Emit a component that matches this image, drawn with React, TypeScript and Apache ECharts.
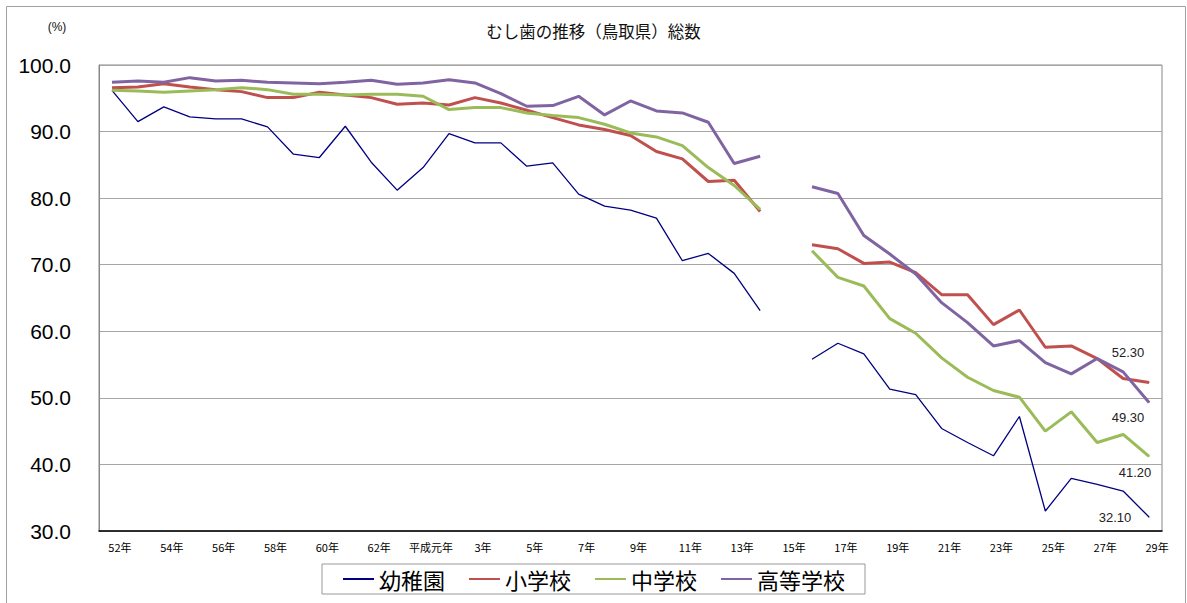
import React, { useEffect, useRef } from "react";
import * as echarts from "echarts";

const categories: string[] = [
  "52年", "53年", "54年", "55年", "56年", "57年", "58年", "59年", "60年", "61年", "62年", "63年",
  "平成元年", "2年", "3年", "4年", "5年", "6年", "7年", "8年", "9年", "10年", "11年", "12年",
  "13年", "14年", "15年", "16年", "17年", "18年", "19年", "20年", "21年", "22年", "23年", "24年",
  "25年", "26年", "27年", "28年", "29年",
];

const kindergarten: (number | null)[] = [
  96.2, 91.5, 93.7, 92.2, 91.9, 91.9, 90.7, 86.6, 86.1, 90.8, 85.4, 81.2,
  84.6, 89.7, 88.3, 88.3, 84.8, 85.3, 80.6, 78.8, 78.2, 77.0, 70.6, 71.7,
  68.7, 63.1, null, 55.8, 58.2, 56.6, 51.3, 50.5, 45.4, 43.3, 41.3, 47.2,
  33.0, 37.9, 37.0, 36.0, 32.1,
];

const elementary: (number | null)[] = [
  96.6, 96.7, 97.2, 96.7, 96.3, 96.0, 95.1, 95.1, 95.9, 95.5, 95.1, 94.1,
  94.3, 94.0, 95.1, 94.3, 93.2, 92.1, 91.0, 90.3, 89.4, 87.0, 85.9, 82.5,
  82.7, 78.0, null, 73.0, 72.4, 70.2, 70.4, 68.8, 65.5, 65.5, 61.0, 63.2,
  57.6, 57.8, 55.9, 52.9, 52.3,
];

const juniorHigh: (number | null)[] = [
  96.2, 96.1, 95.9, 96.1, 96.3, 96.6, 96.3, 95.6, 95.6, 95.5, 95.6, 95.6,
  95.3, 93.3, 93.6, 93.6, 92.8, 92.4, 92.1, 91.1, 89.8, 89.2, 87.9, 84.6,
  81.9, 78.3, null, 72.1, 68.1, 66.8, 61.9, 59.7, 56.0, 53.1, 51.1, 50.1,
  45.0, 47.9, 43.3, 44.5, 41.2,
];

const highSchool: (number | null)[] = [
  97.4, 97.6, 97.4, 98.1, 97.6, 97.7, 97.4, 97.3, 97.2, 97.4, 97.7, 97.1,
  97.3, 97.8, 97.3, 95.7, 93.8, 93.9, 95.3, 92.5, 94.6, 93.1, 92.8, 91.4,
  85.2, 86.3, null, 81.7, 80.7, 74.4, 71.6, 68.6, 64.3, 61.3, 57.8, 58.6,
  55.3, 53.6, 55.9, 53.9, 49.3,
];

const seriesNames = ["幼稚園", "小学校", "中学校", "高等学校"];
const seriesColors = ["#000080", "#C0504D", "#9BBB59", "#8064A2"];
const seriesWidths = [1.3, 3, 3, 3];
const endLabelOffsets: [number, number][] = [[-34, 0], [-21, -30], [-14, 16], [-21, 15]];

function withEndLabel(values: (number | null)[], color: string, offset: [number, number]) {
  const last = values.length - 1;
  return values.map((v, i) => {
    if (i !== last) return v;
    return {
      value: v,
      symbol: "circle",
      symbolSize: 1,
      itemStyle: { color },
      label: {
        show: true,
        position: "inside",
        offset,
        formatter: (p: any) => Number(p.value).toFixed(2),
        color: "#222",
        fontSize: 13,
        fontFamily: "Liberation Sans, Arial, sans-serif",
      },
    };
  });
}

export default function App() {
  const ref = useRef<HTMLDivElement>(null);

  useEffect(() => {
    if (!ref.current) return;
    const chart = echarts.init(ref.current, undefined, { renderer: "svg" });
    const allData = [kindergarten, elementary, juniorHigh, highSchool];

    chart.setOption({
      animation: false,
      backgroundColor: "#ffffff",
      title: {
        text: "むし歯の推移（鳥取県）総数",
        left: "center",
        top: 18,
        textStyle: {
          fontSize: 16.5,
          fontWeight: "normal",
          color: "#111",
          fontFamily: "Noto Sans CJK JP, sans-serif",
        },
      },
      graphic: [
        {
          type: "rect",
          shape: { x: 6.5, y: 6.5, width: 1179, height: 620 },
          style: { fill: "none", stroke: "#a0a0a0", lineWidth: 1 },
          silent: true,
        },
        {
          type: "text",
          x: 57,
          y: 27,
          style: {
            text: "(%)",
            fontSize: 12,
            fill: "#111",
            align: "center",
            verticalAlign: "middle",
            fontFamily: "Liberation Sans, Arial, sans-serif",
          },
        },
      ],
      legend: {
        data: seriesNames,
        left: "center",
        top: 564,
        itemWidth: 31,
        itemHeight: 14,
        itemGap: 23,
        padding: [4, 20, 4, 20],
        borderColor: "#999",
        borderWidth: 1,
        itemStyle: { opacity: 0 },
        textStyle: {
          fontSize: 22,
          color: "#000",
          fontFamily: "Noto Sans CJK JP, sans-serif",
        },
      },
      grid: {
        left: 99,
        right: 25,
        top: 65,
        bottom: 72,
        show: true,
        borderColor: "#888",
        borderWidth: 1,
        containLabel: false,
      },
      xAxis: {
        type: "category",
        data: categories,
        boundaryGap: true,
        axisLine: { show: true, lineStyle: { color: "#000", width: 1.5 } },
        axisTick: { show: false },
        axisLabel: {
          interval: 1,
          margin: 10,
          fontSize: 11,
          color: "#000",
          padding: [0, 0, 0, 16],
          fontFamily: "Noto Sans CJK JP, sans-serif",
        },
        splitLine: { show: false },
      },
      yAxis: {
        type: "value",
        min: 30,
        max: 100,
        interval: 10,
        axisLine: { show: true, lineStyle: { color: "#888" } },
        axisTick: { show: false },
        axisLabel: {
          margin: 28,
          fontSize: 21,
          color: "#000",
          fontFamily: "Liberation Sans, Arial, sans-serif",
          formatter: (v: number) => v.toFixed(1),
        },
        splitLine: { show: true, lineStyle: { color: "#a6a6a6", width: 1 } },
      },
      series: allData.map((d, k) => ({
        name: seriesNames[k],
        type: "line",
        data: withEndLabel(d, seriesColors[k], endLabelOffsets[k]),
        symbol: "none",
        showSymbol: true,
        connectNulls: false,
        color: seriesColors[k],
        lineStyle: { color: seriesColors[k], width: seriesWidths[k] },
        itemStyle: { color: seriesColors[k] },
        z: 2 + k,
      })),
    });

    return () => chart.dispose();
  }, []);

  return (
    <div
      ref={ref}
      style={{ position: "absolute", left: 0, top: 0, width: 1187, height: 603 }}
    />
  );
}
